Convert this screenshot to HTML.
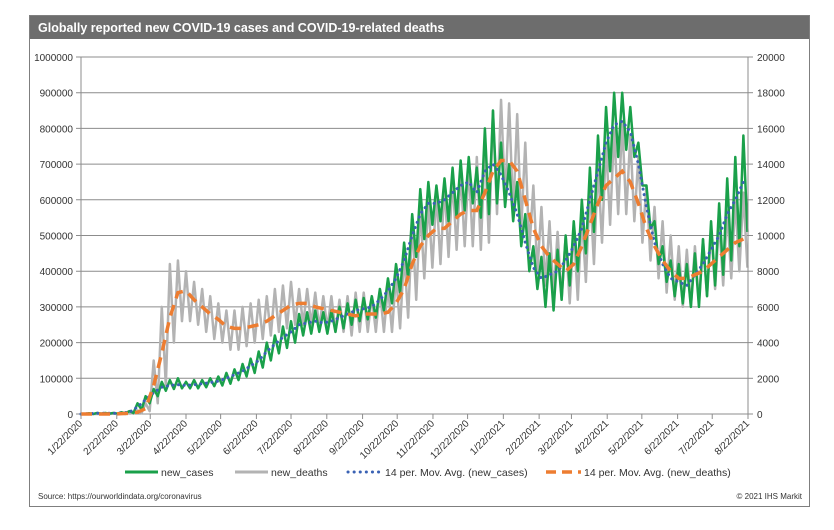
<!DOCTYPE html>
<html><head><meta charset="utf-8"><style>
body{margin:0;background:#fff;font-family:"Liberation Sans",Arial,sans-serif}
svg text{font-family:"Liberation Sans",Arial,sans-serif}
</style></head><body>
<svg id="c" width="834" height="525" viewBox="0 0 834 525">
<rect x="29.5" y="15.5" width="780" height="491" fill="#fff" stroke="#7f7f7f"/>
<rect x="30" y="16" width="779" height="23" fill="#6d6d6d"/>
<text x="38" y="32" font-size="12.5" font-weight="bold" fill="#fff">Globally reported new COVID-19 cases and COVID-19-related deaths</text>
<g id="grid"></g><g id="series"></g><g id="axes"></g>
<g>
<line x1="125" y1="472" x2="158" y2="472" stroke="#1aa04a" stroke-width="3"/>
<text x="161" y="476" font-size="10.5" fill="#333">new_cases</text>
<line x1="235" y1="472" x2="268" y2="472" stroke="#b3b3b3" stroke-width="3"/>
<text x="271" y="476" font-size="10.5" fill="#333">new_deaths</text>
<line x1="348" y1="472" x2="381" y2="472" stroke="#3a62b4" stroke-width="3" stroke-dasharray="0.1 6" stroke-linecap="round"/>
<text x="385" y="476" font-size="10.5" fill="#333">14 per. Mov. Avg. (new_cases)</text>
<line x1="546" y1="472" x2="581" y2="472" stroke="#ed7d31" stroke-width="3.5" stroke-dasharray="10 6"/>
<text x="584" y="476" font-size="10.5" fill="#333">14 per. Mov. Avg. (new_deaths)</text>
</g>
<text x="38" y="499" font-size="8" fill="#333">Source: https://ourworldindata.org/coronavirus</text>
<text x="802" y="499" font-size="8" fill="#333" text-anchor="end">© 2021 IHS Markit</text>
</svg>
<script>
const xLabels=["1/22/2020","2/22/2020","3/22/2020","4/22/2020","5/22/2020","6/22/2020","7/22/2020","8/22/2020","9/22/2020","10/22/2020","11/22/2020","12/22/2020","1/22/2021","2/22/2021","3/22/2021","4/22/2021","5/22/2021","6/22/2021","7/22/2021","8/22/2021"];
const leftTicks=[0,100000,200000,300000,400000,500000,600000,700000,800000,900000,1000000];
const rightTicks=[0,2000,4000,6000,8000,10000,12000,14000,16000,18000,20000];
// weekly values in thousands (deaths expressed on left-axis scale: deaths/20)
const casesHi=[0,2,3,3,3,5,8,30,50,70,90,95,100,90,95,95,100,105,115,125,140,155,175,200,220,245,260,280,285,290,285,290,300,310,320,325,330,350,380,420,480,560,630,650,640,660,690,710,720,690,800,850,760,700,650,560,470,440,450,460,500,540,600,690,780,860,900,900,860,760,640,540,470,430,420,420,450,490,540,590,660,720,780];
const casesLo=[0,0,1,1,1,2,3,12,30,50,65,70,72,72,72,75,78,80,85,95,105,115,130,150,170,185,200,220,225,230,225,230,240,250,260,265,270,290,310,340,380,440,490,530,540,540,550,570,590,550,560,590,580,540,470,400,350,300,290,320,360,400,450,510,600,680,720,740,720,640,520,420,370,330,310,300,300,330,360,390,430,470,510];
const deathsHi=[0,0,0,0,1,2,4,10,30,150,300,420,430,400,370,350,330,310,290,290,300,310,320,330,350,360,370,350,350,340,330,330,320,330,340,340,330,350,360,390,450,540,580,600,620,640,660,680,700,720,760,850,880,870,840,760,640,580,540,510,500,520,560,640,700,760,800,820,780,720,640,580,540,500,470,460,470,490,520,540,570,600,620];
const deathsLo=[0,0,0,0,0,0,1,3,8,30,80,200,260,260,250,230,210,200,180,180,190,200,210,220,230,240,250,250,250,240,240,230,230,220,230,230,230,230,230,240,270,320,380,410,420,440,460,470,470,460,480,560,600,560,520,460,400,360,330,320,310,320,370,420,480,530,560,560,540,480,430,380,340,320,300,300,310,330,350,360,380,400,410];
const maCases=[0,1,2,2,2,3,5,20,40,60,75,80,82,80,82,85,88,92,100,110,120,135,150,175,195,215,230,250,255,260,255,260,270,280,290,295,300,320,345,380,430,500,560,590,590,600,620,640,650,620,680,700,670,620,560,480,410,380,390,400,430,470,520,600,680,760,810,820,790,700,580,480,420,380,370,360,390,420,460,500,560,600,650];
const maDeaths=[0,0,0,0,0,1,2,5,15,80,170,270,340,345,320,300,280,265,245,240,240,245,250,260,275,290,305,310,310,300,295,290,285,280,275,280,280,280,285,310,350,420,470,500,520,520,540,560,570,570,620,680,710,710,680,600,520,470,440,420,400,420,470,530,590,640,660,680,650,590,520,470,430,400,380,380,390,400,420,440,460,480,490];

const NS="http://www.w3.org/2000/svg";
const X0=81,X1=748,Y0=414,Y1=57,DAYS=578;
const xDay=d=>X0+(X1-X0)*d/DAYS;
const yL=v=>Y0-(Y0-Y1)*v/1000000;
const yR=v=>Y0-(Y0-Y1)*v/20000;
const labelDays=[0,31,60,91,121,152,182,213,244,274,305,335,366,397,425,456,486,517,547,578];
function mk(t,a,p){const e=document.createElementNS(NS,t);for(const k in a)e.setAttribute(k,a[k]);p.appendChild(e);return e;}
const grid=document.getElementById('grid'),axes=document.getElementById('axes'),ser=document.getElementById('series');
leftTicks.forEach((v,i)=>{const y=yL(v);
 const g=mk('line',{x1:X0-5,x2:X1,y1:y,y2:y,stroke:i?'#8c8c8c':'#8c8c8c','stroke-width':1},grid);
 
 
 const t=mk('text',{x:X0-8,y:y+4,'font-size':10,'text-anchor':'end',fill:'#333'},axes);t.textContent=v;
 
 
});
rightTicks.forEach(v=>{const y=yR(v);
 mk('line',{x1:X1,x2:X1+5,y1:y,y2:y,stroke:'#8c8c8c'},axes);
 const t=mk('text',{x:X1+9,y:y+4,'font-size':10,fill:'#333'},axes);t.textContent=v;
 
 
});
mk('line',{x1:X0,x2:X0,y1:Y1,y2:Y0,stroke:'#8c8c8c'},axes);
mk('line',{x1:X1,x2:X1,y1:Y1,y2:Y0,stroke:'#8c8c8c'},axes);
xLabels.forEach((s,i)=>{const x=xDay(labelDays[i]);
 mk('line',{x1:x,x2:x,y1:Y0,y2:Y0+5,stroke:'#8c8c8c'},axes);
 const t=mk('text',{x:x+2,y:Y0+10,'font-size':10,'text-anchor':'end',fill:'#333',transform:`rotate(-45 ${x+2} ${Y0+10})`},axes);t.textContent=s;
 
 
});
function zig(hi,lo){const pts=[];hi.forEach((h,w)=>{pts.push([xDay(w*7),yL(h*1000)]);if(w*7+3.5<=DAYS)pts.push([xDay(w*7+3.5),yL(lo[w]*1000)]);});return pts.map(p=>p.join(',')).join(' ');}
function smooth(arr){return arr.map((v,w)=>[xDay(Math.min(w*7,DAYS)),yL(v*1000)].join(',')).join(' ');}
const d=mk('polyline',{points:zig(deathsHi,deathsLo),fill:'none',stroke:'#b3b3b3','stroke-width':2.5,'stroke-linejoin':'round'},ser);


const c=mk('polyline',{points:zig(casesHi,casesLo),fill:'none',stroke:'#1aa04a','stroke-width':2.5,'stroke-linejoin':'round'},ser);


const mc=mk('polyline',{points:smooth(maCases),fill:'none',stroke:'#3a62b4','stroke-width':3,'stroke-dasharray':'0.1 5.5','stroke-linecap':'round'},ser);


const md=mk('polyline',{points:smooth(maDeaths),fill:'none',stroke:'#ed7d31','stroke-width':3.5,'stroke-dasharray':'11 7'},ser);


</script>
</body></html>
